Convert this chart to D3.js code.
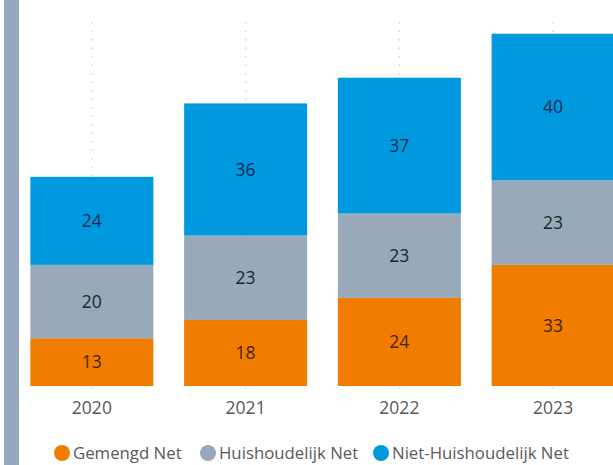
<!DOCTYPE html>
<html>
<head>
<meta charset="utf-8">
<script src="https://cdn.jsdelivr.net/npm/d3@7"></script>
<style>
  body { margin: 0; background: #fff; }
  svg { display: block; font-family: "Open Sans", sans-serif; }
</style>
</head>
<body>
<script>
const years = ['2020', '2021', '2022', '2023']
const gemengd = [13, 18, 24, 33]
const huishoudelijk = [20, 23, 23, 23]
const nietHuishoudelijk = [24, 36, 37, 40]
const seriesNames = ['Gemengd Net', 'Huishoudelijk Net', 'Niet-Huishoudelijk Net']

const width = 613
const height = 465
const colors = ['#F07C00', '#98A9BA', '#0099E0']
const labelColors = ['#4a1f05', '#22262e', '#13294f']

const rows = years.map((y, i) => ({
  year: y,
  'Gemengd Net': gemengd[i],
  'Huishoudelijk Net': huishoudelijk[i],
  'Niet-Huishoudelijk Net': nietHuishoudelijk[i]
}))

const stacked = d3.stack().keys(seriesNames)(rows)

const svg = d3.select('body').append('svg')
  .attr('width', width)
  .attr('height', height)

const x = d3.scaleBand()
  .domain(years)
  .range([15, 630])
  .paddingInner(0.2)
  .paddingOuter(0.1)

const y = d3.scaleLinear()
  .domain([0, 100])
  .range([386, 19])

// left decorative strip
svg.append('rect')
  .attr('x', 4).attr('y', 0)
  .attr('width', 15).attr('height', height)
  .attr('fill', '#95A8BD')

// dotted gridlines
svg.append('g')
  .selectAll('line')
  .data(years)
  .enter()
  .append('line')
  .attr('x1', d => x(d) + x.bandwidth() / 2)
  .attr('x2', d => x(d) + x.bandwidth() / 2)
  .attr('y1', 22)
  .attr('y2', 392)
  .attr('stroke', '#d4d4d4')
  .attr('stroke-width', 1.5)
  .attr('stroke-dasharray', '1.5,7')

const groups = svg.selectAll('g.series')
  .data(stacked)
  .enter()
  .append('g')
  .attr('class', 'series')

groups.selectAll('rect')
  .data(d => d)
  .enter()
  .append('rect')
  .attr('x', d => x(d.data.year))
  .attr('y', d => y(d[1]))
  .attr('width', x.bandwidth())
  .attr('height', d => y(d[0]) - y(d[1]))
  .attr('fill', function() { return colors[d3.select(this.parentNode).datum().index] })

groups.each(function(s) {
  d3.select(this).selectAll('text')
    .data(s)
    .enter()
    .append('text')
    .attr('x', d => x(d.data.year) + x.bandwidth() / 2)
    .attr('y', d => (y(d[0]) + y(d[1])) / 2)
    .attr('dy', '0.35em')
    .attr('text-anchor', 'middle')
    .attr('font-size', 17.5)
    .attr('fill', labelColors[s.index])
    .text(d => d[1] - d[0])
})

const xAxis = d3.axisBottom(x).tickSize(0).tickPadding(0)
svg.append('g')
  .attr('transform', 'translate(0,386)')
  .call(xAxis)
  .call(g => g.select('.domain').remove())
  .selectAll('text')
  .attr('y', 22)
  .attr('dy', '0.35em')
  .attr('font-size', 17.5)
  .attr('font-family', '"Open Sans", sans-serif')
  .attr('fill', '#595959')

// legend
const legendX = [62, 208, 381]
const legend = svg.append('g')
  .selectAll('g')
  .data(seriesNames)
  .enter()
  .append('g')
  .attr('transform', (d, i) => 'translate(' + legendX[i] + ',453)')

legend.append('circle')
  .attr('r', 8)
  .attr('fill', (d, i) => colors[i])

legend.append('text')
  .attr('x', 11)
  .attr('dy', '0.35em')
  .attr('font-size', 16.8)
  .attr('fill', '#595959')
  .text(d => d)
</script>
</body>
</html>
